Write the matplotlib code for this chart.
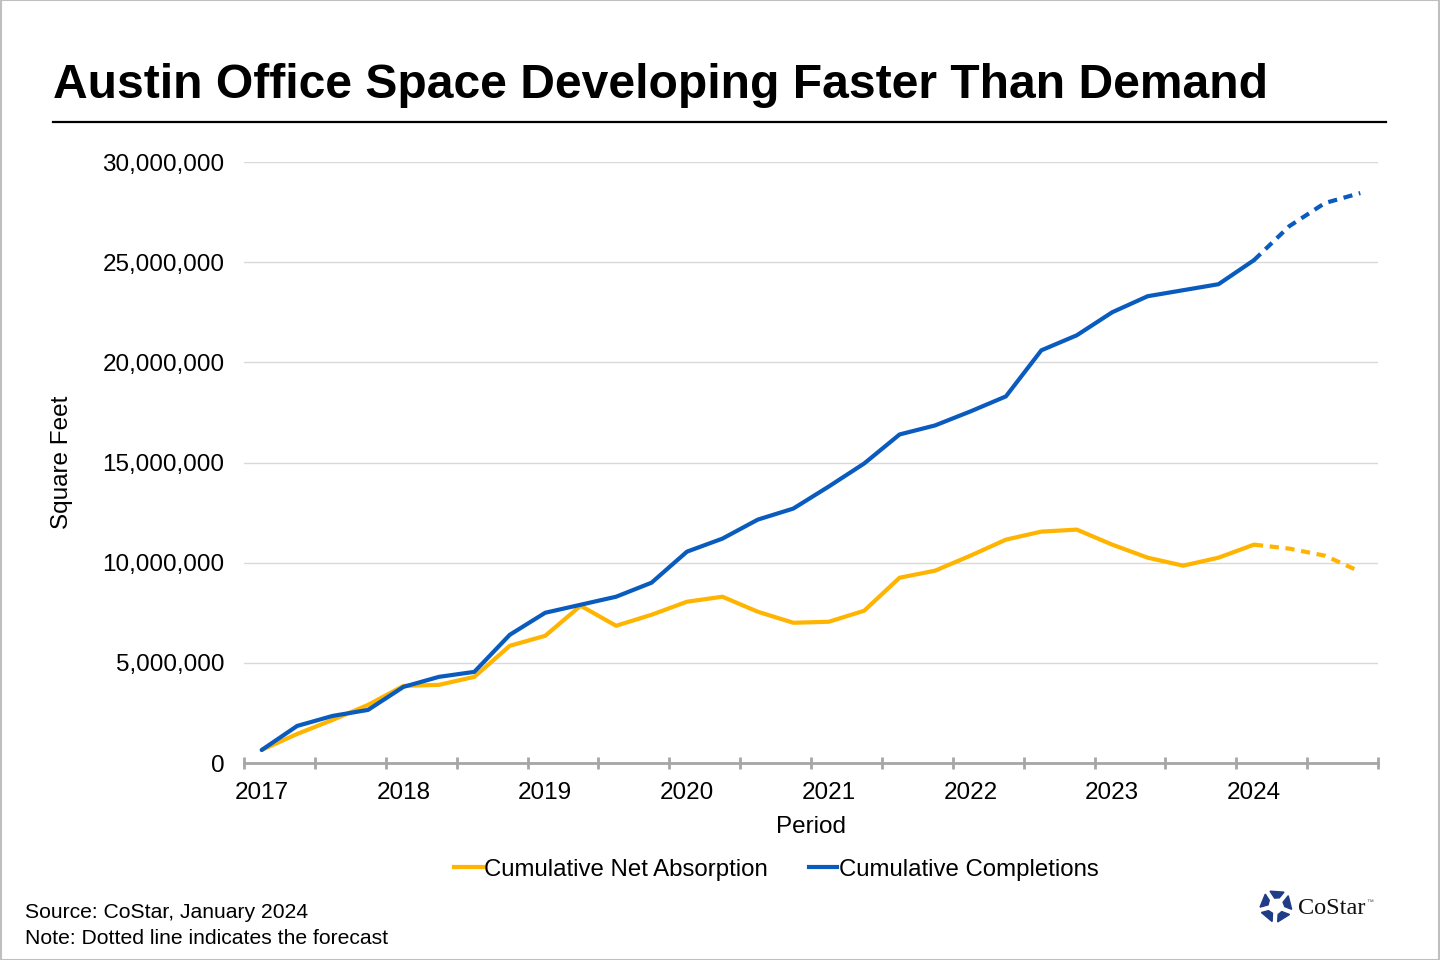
import numpy as np
import matplotlib
matplotlib.use("Agg")
from matplotlib import pyplot as plt
from matplotlib.lines import Line2D
from matplotlib.patches import Rectangle, Polygon
from matplotlib.ticker import FuncFormatter

plt.rcParams['font.family'] = ['Liberation Sans', 'DejaVu Sans']

# quarterly, 2017 Q1 .. 2024 Q4; last four quarters are forecast
years = ['2017', '2018', '2019', '2020', '2021', '2022', '2023', '2024']
completions = [0.65, 1.85, 2.35, 2.65, 3.8, 4.3, 4.55, 6.4,
               7.5, 7.9, 8.3, 9.0, 10.55, 11.2, 12.15, 12.7,
               13.8, 14.95, 16.4, 16.85, 17.55, 18.3, 20.6, 21.35,
               22.5, 23.3, 23.6, 23.9, 25.1, 26.8, 27.95, 28.45]
absorption = [0.65, 1.45, 2.15, 2.9, 3.85, 3.9, 4.3, 5.85,
              6.35, 7.85, 6.85, 7.4, 8.05, 8.3, 7.55, 7.0,
              7.05, 7.6, 9.25, 9.6, 10.35, 11.15, 11.55, 11.65,
              10.9, 10.25, 9.85, 10.25, 10.9, 10.7, 10.35, 9.55]
first_forecast = 28

blue = '#0A5BBE'
gold = '#FFB400'

comp = np.array(completions) * 1e6
absr = np.array(absorption) * 1e6
x = np.arange(len(comp))

fig = plt.figure(figsize=(14.4, 9.6), dpi=100)
ax = fig.add_axes([244/1440, 1 - 763/960, (1378-244)/1440, (763-162)/960])

# actuals solid, forecast dashed
ax.plot(x[:first_forecast+1], absr[:first_forecast+1], color=gold, lw=3, solid_capstyle='round')
ax.plot(x[first_forecast:], absr[first_forecast:], color=gold, lw=3, ls=(0, (2.2, 1.6)))
ax.plot(x[:first_forecast+1], comp[:first_forecast+1], color=blue, lw=3, solid_capstyle='round')
ax.plot(x[first_forecast:], comp[first_forecast:], color=blue, lw=3, ls=(0, (2.2, 1.6)))

ax.set_xlim(-0.5, len(x) - 0.5)
ax.set_ylim(0, 30e6)
ax.set_yticks(np.arange(0, 30e6 + 1, 5e6))
ax.yaxis.set_major_formatter(FuncFormatter(lambda v, p: f'{int(v):,}'))
ax.grid(axis='y', color='#D9D9D9', lw=1)
ax.set_axisbelow(True)

# ticks between every other quarter, year labels on Q1
ax.set_xticks(np.arange(-0.5, len(x), 2))
ax.set_xticklabels([])
ax.tick_params(axis='x', which='major', direction='inout', length=9, width=2, color='#A6A6A6')
ax.set_xticks(np.arange(0, len(x), 4), minor=True)
ax.set_xticklabels(years, minor=True)
ax.tick_params(axis='x', which='minor', length=0, pad=14, labelsize=17.5)
ax.tick_params(axis='y', length=0, pad=14, labelsize=17.5)

for s in ['top', 'right', 'left']:
    ax.spines[s].set_visible(False)
ax.spines['bottom'].set_color('#A6A6A6')
ax.spines['bottom'].set_linewidth(2)

ax.set_xlabel('Period', fontsize=17.5, labelpad=8)
ax.set_ylabel('Square Feet', fontsize=17.5)
ax.yaxis.set_label_coords(-0.151, 0.5)

handles = [Line2D([], [], color=gold, lw=3), Line2D([], [], color=blue, lw=3)]
fig.legend(handles, ['Cumulative Net Absorption', 'Cumulative Completions'],
           loc='center', bbox_to_anchor=(0.539, 0.094), ncol=2, frameon=False,
           fontsize=17.3, handlelength=1.2, handletextpad=0.05, columnspacing=1.7)

fig.text(53/1440, 1 - 98/960, 'Austin Office Space Developing Faster Than Demand',
         fontsize=34.6, fontweight='bold', va='baseline', ha='left')
fig.add_artist(Line2D([53/1440, 1386/1440], [1 - 122/960, 1 - 122/960], color='black', lw=1.6))

fig.text(25/1440, 1 - 913/960, 'Source: CoStar, January 2024', fontsize=15.2, va='center')
fig.text(25/1440, 1 - 938/960, 'Note: Dotted line indicates the forecast', fontsize=15.2, va='center')

# logo
cx, cy, r = 1276, 906, 16
navy = '#1F3C88'
for k in range(5):
    a = np.deg2rad(90 + 72 * k)
    pts = []
    for da, rr in [(-22, 0.55), (-30, 1.0), (22, 1.0), (10, 0.5)]:
        t = a + np.deg2rad(da)
        pts.append(((cx + rr * r * np.cos(t)) / 1440, 1 - (cy - rr * r * np.sin(t)) / 960))
    fig.add_artist(Polygon(pts, closed=True, color=navy, transform=fig.transFigure))
fig.text(1298/1440, 1 - 908/960, 'CoStar', family=['Liberation Serif', 'DejaVu Serif'],
         fontsize=17.5, va='center', color='#111111')
fig.text(1366/1440, 1 - 902/960, '™', fontsize=5, va='center', color='#555555')

fig.add_artist(Rectangle((0.0005, 0.0005), 0.999, 0.999, fill=False, edgecolor='#BFBFBF',
                         lw=1.5, transform=fig.transFigure))

fig.savefig('out.png', dpi=100)
